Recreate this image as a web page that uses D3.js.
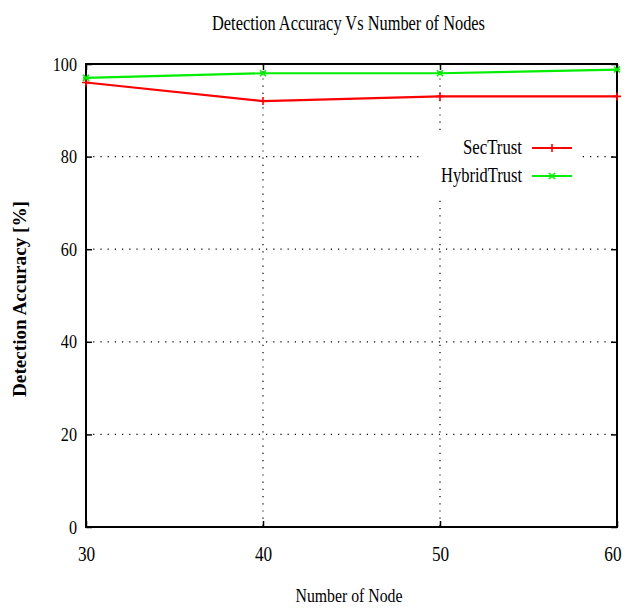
<!DOCTYPE html>
<html>
<head>
<meta charset="utf-8">
<script src="https://cdn.jsdelivr.net/npm/d3@7"></script>
<style>
  html, body { margin: 0; padding: 0; background: #fff; }
  svg { display: block; }
  text { font-family: "Liberation Serif", "Times New Roman", serif; fill: #000; }
</style>
</head>
<body>
<svg id="chart" width="626" height="608"></svg>
<script>
// ---- data ----
const nodes = [30, 40, 50, 60];
const secTrust = [96, 92, 93, 93];
const hybridTrust = [97, 98, 98, 98.8];
const xTicks = [30, 40, 50, 60];
const yTicks = [0, 20, 40, 60, 80, 100];
const seriesNames = ["SecTrust", "HybridTrust"];
const titleText = "Detection Accuracy Vs Number of Nodes";
const xLabel = "Number of Node";
const yLabel = "Detection Accuracy [%]";

// ---- layout ----
const L = 86, R = 617, T = 64, B = 527;
const svg = d3.select("#chart");
const x = d3.scaleLinear().domain([30, 60]).range([L, R]);
const y = d3.scaleLinear().domain([0, 100]).range([B, T]);

function condense(sel, factor) {
  sel.each(function () {
    const w = this.getComputedTextLength();
    d3.select(this).attr("textLength", w * factor).attr("lengthAdjust", "spacingAndGlyphs");
  });
}
function fitWidth(sel, width) {
  sel.attr("textLength", width).attr("lengthAdjust", "spacingAndGlyphs");
}

// grid
const grid = svg.append("g");
grid.selectAll("line.gy").data(yTicks.filter(v => v > 0 && v < 100)).join("line")
  .attr("x1", L).attr("x2", R).attr("y1", d => y(d)).attr("y2", d => y(d))
  .attr("stroke", "#000").attr("stroke-width", 1.2).attr("stroke-dasharray", "1.2,6");
grid.selectAll("line.gx").data(xTicks.filter(v => v > 30 && v < 60)).join("line")
  .attr("y1", T).attr("y2", B).attr("x1", d => x(d)).attr("x2", d => x(d))
  .attr("stroke", "#000").attr("stroke-width", 1.2).attr("stroke-dasharray", "1.2,6");

// axes
const gl = svg.append("g").attr("transform", `translate(${L},0)`)
  .call(d3.axisLeft(y).tickValues(yTicks).tickSize(-6).tickPadding(9));
const gr = svg.append("g").attr("transform", `translate(${R},0)`)
  .call(d3.axisRight(y).tickValues(yTicks).tickSize(-6).tickFormat(""));
const gb = svg.append("g").attr("transform", `translate(0,${B})`)
  .call(d3.axisBottom(x).tickValues(xTicks).tickSize(-6).tickPadding(19));
const gt = svg.append("g").attr("transform", `translate(0,${T})`)
  .call(d3.axisTop(x).tickValues(xTicks).tickSize(-6).tickFormat(""));
[gl, gr, gb, gt].forEach(g => {
  g.select(".domain").remove();
  g.selectAll(".tick line").attr("stroke", "#000").attr("stroke-width", 1.5);
});
gl.selectAll("text").attr("font-size", 19).attr("font-family", "Liberation Serif").call(condense, 0.85);
gb.selectAll("text").attr("font-size", 21).attr("font-family", "Liberation Serif").call(condense, 0.82);
// keep the last x tick label inside the page
gb.selectAll(".tick").filter(d => d === 60).select("text")
  .attr("text-anchor", "end").attr("x", 4);

// legend background
svg.append("rect").attr("x", 420).attr("y", 133).attr("width", 162).attr("height", 62).attr("fill", "#fff");

// frame
svg.append("rect").attr("x", L).attr("y", T).attr("width", R - L).attr("height", B - T)
  .attr("fill", "none").attr("stroke", "#000").attr("stroke-width", 2);

// series
const colors = ["#ff0000", "#00ee00"];
const plusPath = "M-4,0H4M0,-4V4";
const xPath = "M-3,-3L3,3M-3,3L3,-3M-3,0H3";
const markers = [plusPath, xPath];
const line = d3.line().x((d, i) => x(nodes[i])).y(d => y(d));
[secTrust, hybridTrust].forEach((vals, k) => {
  svg.append("path").datum(vals).attr("d", line).attr("fill", "none")
    .attr("stroke", colors[k]).attr("stroke-width", 2.2);
  svg.selectAll(null).data(vals).join("path")
    .attr("transform", (d, i) => `translate(${x(nodes[i])},${y(d)})`)
    .attr("d", markers[k]).attr("stroke", colors[k]).attr("stroke-width", 1.6).attr("fill", "none");
});

// legend
const legY = [148, 176];
seriesNames.forEach((name, k) => {
  const t = svg.append("text").attr("x", 522).attr("y", legY[k] + 6).attr("text-anchor", "end")
    .attr("font-size", 20).text(name);
  fitWidth(t, k === 0 ? 59 : 81);
  svg.append("line").attr("x1", 532).attr("x2", 572).attr("y1", legY[k]).attr("y2", legY[k])
    .attr("stroke", colors[k]).attr("stroke-width", 2.2);
  svg.append("path").attr("transform", `translate(552,${legY[k]})`).attr("d", markers[k])
    .attr("stroke", colors[k]).attr("stroke-width", 1.6).attr("fill", "none");
});

// title & labels
const tt = svg.append("text").attr("x", 348.5).attr("y", 30).attr("text-anchor", "middle")
  .attr("font-size", 20).text(titleText);
fitWidth(tt, 273);
const xl = svg.append("text").attr("x", 349).attr("y", 602).attr("text-anchor", "middle")
  .attr("font-size", 19).text(xLabel);
fitWidth(xl, 107);
const yl = svg.append("text").attr("transform", "translate(26,299) rotate(-90)")
  .attr("text-anchor", "middle").attr("font-size", 18).attr("font-weight", "bold").text(yLabel);
fitWidth(yl, 196);
</script>
</body>
</html>
